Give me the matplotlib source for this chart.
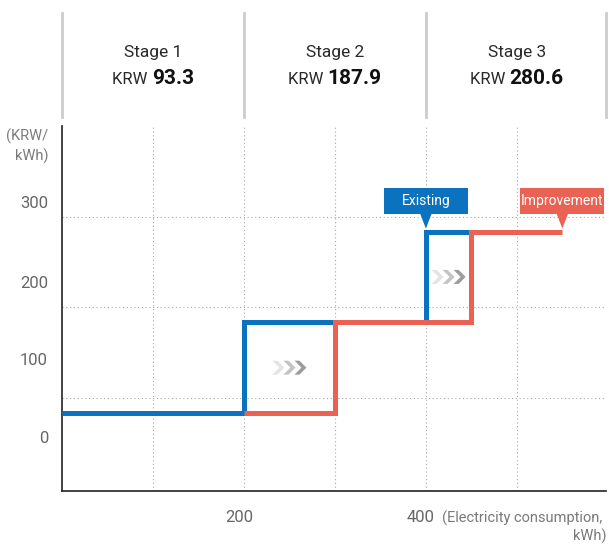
import matplotlib
matplotlib.use('Agg')
import matplotlib.pyplot as plt
from matplotlib.patches import Polygon, Rectangle
from matplotlib.lines import Line2D
import matplotlib.transforms as mtransforms

plt.rcParams['font.family'] = ['Roboto', 'DejaVu Sans']

# ---------------- data ----------------
stage_names = ['Stage 1', 'Stage 2', 'Stage 3']
stage_prices = [93.3, 187.9, 280.6]
stage_bounds = [0, 200, 400, 600]

existing_x = [0, 200, 400, 450]
existing_y = [93.3, 187.9, 280.6, 280.6]
improved_x = [200, 300, 450, 550]
improved_y = [93.3, 187.9, 280.6, 280.6]

xtick_vals = [200, 400]
xtick_labels = ['200', '400']
ytick_labels = ['0', '100', '200', '300']
# ---------------------------------------

W, H = 609, 546
DPI = 100
BLUE = '#0b72c0'
RED = '#ea6253'
GRID = '#a8a8a8'
ID = mtransforms.IdentityTransform()

fig = plt.figure(figsize=(W / DPI, H / DPI), dpi=DPI)
ax = fig.add_axes([62 / W, 1 - 491 / H, 544 / W, 365 / H])
ax.set_xlim(0, 598)
ax.set_ylim(13.3, 390)

# decorative scale (label positions do not coincide with grid lines in the original)
ytick_pos = [69.4, 149.5, 229.3, 311.9]
ygrid_pos = [109.3, 202.7, 296.1]
xgrid_pos = [100, 200, 300, 400, 500]

for gx in xgrid_pos:
    ax.axvline(gx, color=GRID, lw=0.8, ls=(0, (1, 2.4)), zorder=1)
for gy in ygrid_pos:
    ax.axhline(gy, color=GRID, lw=0.8, ls=(0, (1, 2.4)), zorder=1)

for s in ['top', 'right']:
    ax.spines[s].set_visible(False)
for s in ['left', 'bottom']:
    ax.spines[s].set_color('#222222')
    ax.spines[s].set_linewidth(1.2)

ax.set_xticks(xtick_vals, xtick_labels)
ax.set_yticks(ytick_pos, ytick_labels)
ax.tick_params(axis='both', length=0, labelsize=12, labelcolor='#666666')
ax.tick_params(axis='x', pad=14)
ax.tick_params(axis='y', pad=10)
off = mtransforms.ScaledTranslation(-5 / DPI, 0, fig.dpi_scale_trans)
for lab in ax.get_xticklabels():
    lab.set_transform(lab.get_transform() + off)

# step lines
ax.plot(existing_x, existing_y, drawstyle='steps-post', color=BLUE, lw=3.6,
        solid_joinstyle='miter', solid_capstyle='butt', zorder=3)
ax.plot(improved_x, improved_y, drawstyle='steps-post', color=RED, lw=3.6,
        solid_joinstyle='miter', solid_capstyle='butt', zorder=4)

# axis unit labels
def fy(ypx):
    return H - ypx

unit_kw = dict(transform=ID, va='baseline', fontsize=10.5, color='#7a7a7a')
fig.text(48, fy(141), '(KRW/', ha='right', **unit_kw)
fig.text(48, fy(161), 'kWh)', ha='right', **unit_kw)
fig.text(442, fy(523), '(Electricity consumption,', ha='left', **unit_kw)
fig.text(606, fy(541), 'kWh)', ha='right', **unit_kw)

# label callouts
def callout(xd, yd, text, color):
    tx, ty = ax.transData.transform((xd, yd))
    ty = ty + 3.5
    bw, bh = 84, 26
    base = ty + 15
    fig.add_artist(Rectangle((tx - bw / 2, base), bw, bh, transform=ID,
                             facecolor=color, edgecolor='none', zorder=6))
    fig.add_artist(Polygon([(tx - 6, base + 0.5), (tx + 6, base + 0.5), (tx, ty)],
                           closed=True, transform=ID, facecolor=color,
                           edgecolor='none', zorder=6))
    fig.text(tx, base + bh / 2, text, transform=ID, ha='center', va='center',
             fontsize=10, color='white', zorder=7)

callout(existing_x[2], existing_y[2], 'Existing', BLUE)
callout(improved_x[3], improved_y[3], 'Improvement', RED)

# chevrons in the transition zones
def chevrons(cx, cy):
    cols = ['#e4e4e4', '#c4c4c4', '#9c9c9c']
    w, t, h = 12, 5, 14
    for i, c in enumerate(cols):
        x0 = cx - 17 + i * 11
        pts = [(x0, cy + h / 2), (x0 + t, cy + h / 2), (x0 + w, cy),
               (x0 + t, cy - h / 2), (x0, cy - h / 2), (x0 + w - t, cy)]
        fig.add_artist(Polygon(pts, closed=True, transform=ID, facecolor=c,
                               edgecolor='none', zorder=5))

for k in (1, 2):
    mx = (existing_x[k] + improved_x[k]) / 2
    my = (existing_y[k - 1] + existing_y[k]) / 2
    cx, cy = ax.transData.transform((mx, my))
    chevrons(cx, cy)

# header with stage prices
renderer = fig.canvas.get_renderer()
for b in stage_bounds:
    bx = min(ax.transData.transform((b, 0))[0], 606)
    fig.add_artist(Line2D([bx, bx], [fy(13), fy(117)], transform=ID,
                          color='#cccccc', lw=2))
for i, (name, price) in enumerate(zip(stage_names, stage_prices)):
    cx = ax.transData.transform(((stage_bounds[i] + stage_bounds[i + 1]) / 2, 0))[0]
    fig.text(cx, fy(57), name, transform=ID, ha='center', va='baseline',
             fontsize=12.5, color='#2a2a2a')
    t1 = fig.text(0, fy(84), 'KRW ', transform=ID, ha='left', va='baseline',
                  fontsize=12, color='#2a2a2a')
    t2 = fig.text(0, fy(84), f'{price}', transform=ID, ha='left', va='baseline',
                  fontsize=15, fontweight='bold', color='#111111')
    w1 = t1.get_window_extent(renderer).width
    w2 = t2.get_window_extent(renderer).width
    x0 = cx - (w1 + w2) / 2
    t1.set_x(x0)
    t2.set_x(x0 + w1)

fig.savefig('out.png', dpi=DPI)
